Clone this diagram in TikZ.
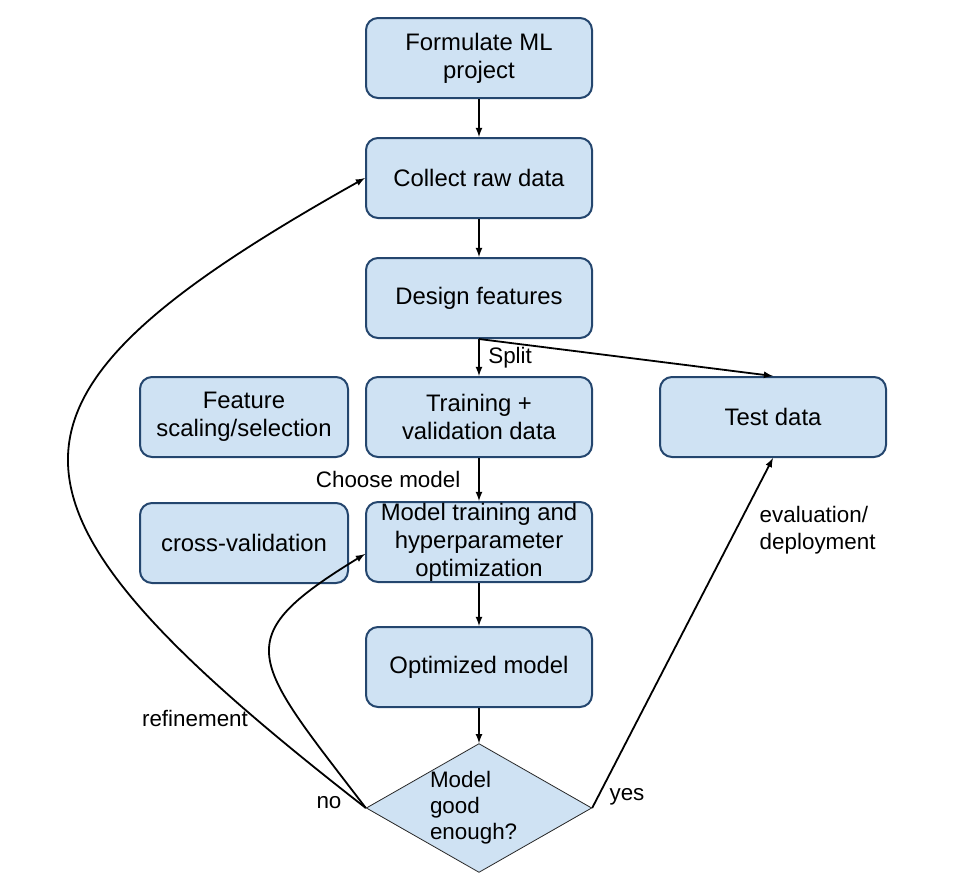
\documentclass[tikz,border=0pt]{standalone}
\usepackage{fontspec}
\setmainfont{Liberation Sans}
\usetikzlibrary{shapes.geometric}
\definecolor{boxfill}{HTML}{CFE2F3}
\definecolor{boxline}{HTML}{24466E}

\begin{document}
\begin{tikzpicture}[x=0.75pt, y=-0.75pt,
		stage/.style={draw=boxline, line width=1.5pt, fill=boxfill, rounded corners=9pt,
			minimum width=169.5pt, minimum height=60pt, inner ysep=0pt, align=center,
			font=\fontsize{17.9}{21}\selectfont},
		decision/.style={shape=diamond, draw=black!85, line width=0.6pt, fill=boxfill,
			shape aspect=1.75, minimum width=168pt, minimum height=96pt, inner sep=0pt,
			text width=73.5pt, align=left, font=\fontsize{16.8}{19.5}\selectfont},
		tag/.style={font=\fontsize{16.8}{20}\selectfont},
		flow/.style={black, line width=1.35pt, -latex}]
		\useasboundingbox (0,0) rectangle (965,875);
		% main column
		\node[stage] (formulate) at (479,58) {Formulate ML\\project};
		\node[stage] (collect) at (479,178) {Collect raw data};
		\node[stage] (design) at (479,298) {Design features};
		\node[stage] (trainval) at (479,417) {Training +\\validation data};
		\node[stage] (training) at (479,542) {Model training and\\hyperparameter\\optimization};
		\node[stage] (optimized) at (479,667) {Optimized model};
		\node[decision] (good) at (479,808) {Model\\good\\enough?};
		% side boxes
		\node[stage, minimum width=156pt] (scaling) at (244,417) {Feature\\scaling/selection};
		\node[stage, minimum width=156pt] (crossval) at (244,543) {cross-validation};
		\node[stage] (test) at (773,417) {Test data};
		% arrows
		\draw[flow] (formulate) -- (collect);
		\draw[flow] (collect) -- (design);
		\draw[flow] (design) -- node[tag, right=3pt] {Split} (trainval);
		\draw[flow] (design.south) -- (test.north);
		\draw[flow] (trainval) -- node[tag, left=10pt] {Choose model} (training);
		\draw[flow] (training) -- (optimized);
		\draw[flow] (optimized) -- (good);
		% yes
		\draw[flow] (good.east) -- (test.south);
		\node[tag, anchor=west, align=left] (evaltag) at (755,530) {evaluation/\\deployment};
		\node[tag] (yestag) at (627,797) {yes};
		% no
		\draw[flow] (good.west) .. controls (-30,500) and (-30,400) .. (collect.west);
		\draw[flow] (good.west) .. controls (251,658) and (226,639) .. ([yshift=-9pt]training.west);
		\node[tag] (notag) at (329,803) {no};
		\node[tag] (refinetag) at (195,718) {refinement};
	\end{tikzpicture}
\end{document}
